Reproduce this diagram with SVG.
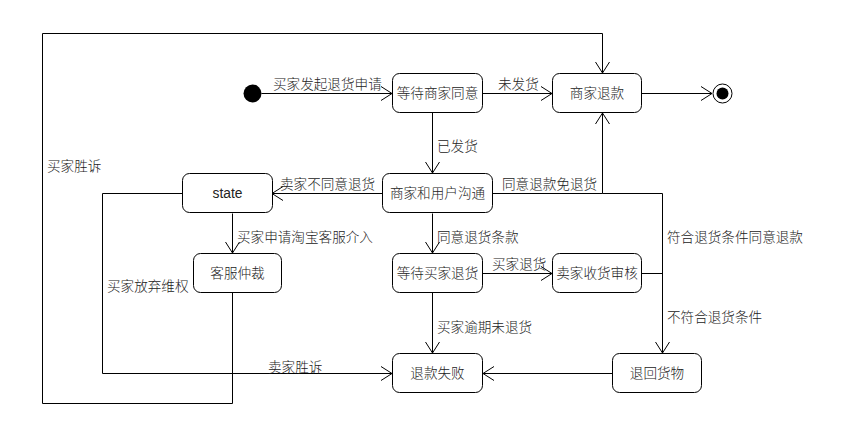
<svg xmlns="http://www.w3.org/2000/svg" width="846" height="440" viewBox="0 0 846 440">
<style>
.n{fill:#fff;stroke:#000;stroke-width:1}
.t{font-family:"Noto Sans CJK SC","Liberation Sans",sans-serif;font-size:13.6px;font-weight:300;fill:#222}
.c{text-anchor:middle}
.e{fill:none;stroke:#000;stroke-width:1}
</style>
<defs>
<marker id="a" markerUnits="userSpaceOnUse" markerWidth="14" markerHeight="18" refX="12" refY="8" orient="auto" overflow="visible">
<path d="M1,1 L12,8 L1,15" fill="none" stroke="#000" stroke-width="1"/>
</marker>
</defs>
<rect width="846" height="440" fill="#fff"/>
<g id="connectors">
<path class="e" d="M261.5,93.5 H392" marker-end="url(#a)"/>
<path class="e" d="M482.5,93.5 H552" marker-end="url(#a)"/>
<path class="e" d="M641.5,93.5 H712" marker-end="url(#a)"/>
<path class="e" d="M432.5,112.5 V173" marker-end="url(#a)"/>
<path class="e" d="M382.5,193.5 H272" marker-end="url(#a)"/>
<path class="e" d="M492.5,193.5 H602.5 V113" marker-end="url(#a)"/>
<path class="e" d="M602.5,193.5 H662.5 V353" marker-end="url(#a)"/>
<path class="e" d="M232.5,213.5 V253" marker-end="url(#a)"/>
<path class="e" d="M182.5,193.5 H102.5 V373.5 H392" marker-end="url(#a)"/>
<path class="e" d="M232.5,292.5 V403.5 H42.5 V33.5 H602.5 V73" marker-end="url(#a)"/>
<path class="e" d="M432.5,213.5 V253" marker-end="url(#a)"/>
<path class="e" d="M482.5,273.5 H552" marker-end="url(#a)"/>
<path class="e" d="M641.5,273.5 H662.5"/>
<path class="e" d="M432.5,292.5 V353" marker-end="url(#a)"/>
<path class="e" d="M612.5,373.5 H483" marker-end="url(#a)"/>
<text class="t" x="273" y="89">买家发起退货申请</text>
<text class="t" x="498" y="89">未发货</text>
<text class="t" x="437" y="151">已发货</text>
<text class="t" x="280" y="189">卖家不同意退货</text>
<text class="t" x="502" y="189">同意退款免退货</text>
<text class="t" x="47" y="171">买家胜诉</text>
<text class="t" x="237" y="242">买家申请淘宝客服介入</text>
<text class="t" x="107" y="291">买家放弃维权</text>
<text class="t" x="268" y="372">卖家胜诉</text>
<text class="t" x="437" y="242">同意退货条款</text>
<text class="t" x="492" y="269">买家退货</text>
<text class="t" x="667" y="242">符合退货条件同意退款</text>
<text class="t" x="667" y="322">不符合退货条件</text>
<text class="t" x="437" y="332">买家逾期未退货</text>
</g>
<g id="start"><circle cx="252.5" cy="93.5" r="9" fill="#000"/></g>
<g id="end"><circle cx="722.5" cy="93.5" r="9.5" fill="#fff" stroke="#000"/><circle cx="722.5" cy="93.5" r="6" fill="#000"/></g>
<g id="wait_merchant"><rect class="n" x="392.5" y="73.5" width="90" height="39" rx="7"/><text class="t c" x="437.5" y="98">等待商家同意</text></g>
<g id="merchant_refund"><rect class="n" x="552.5" y="73.5" width="89" height="39" rx="7"/><text class="t c" x="597" y="98">商家退款</text></g>
<g id="state"><rect class="n" x="182.5" y="173.5" width="90" height="39" rx="7"/><text class="t c" x="227.5" y="198" style="font-family:'Liberation Sans',sans-serif;font-weight:400;font-size:13.8px">state</text></g>
<g id="communicate"><rect class="n" x="382.5" y="173.5" width="110" height="39" rx="7"/><text class="t c" x="437.5" y="198">商家和用户沟通</text></g>
<g id="arbitration"><rect class="n" x="193.5" y="253.5" width="88" height="39" rx="7"/><text class="t c" x="237.5" y="278">客服仲裁</text></g>
<g id="wait_buyer"><rect class="n" x="392.5" y="253.5" width="90" height="39" rx="7"/><text class="t c" x="437.5" y="278">等待买家退货</text></g>
<g id="seller_check"><rect class="n" x="552.5" y="253.5" width="89" height="39" rx="7"/><text class="t c" x="597" y="278">卖家收货审核</text></g>
<g id="refund_fail"><rect class="n" x="392.5" y="353.5" width="90" height="39" rx="7"/><text class="t c" x="437.5" y="378">退款失败</text></g>
<g id="return_goods"><rect class="n" x="612.5" y="353.5" width="89" height="39" rx="7"/><text class="t c" x="657" y="378">退回货物</text></g>
</svg>
